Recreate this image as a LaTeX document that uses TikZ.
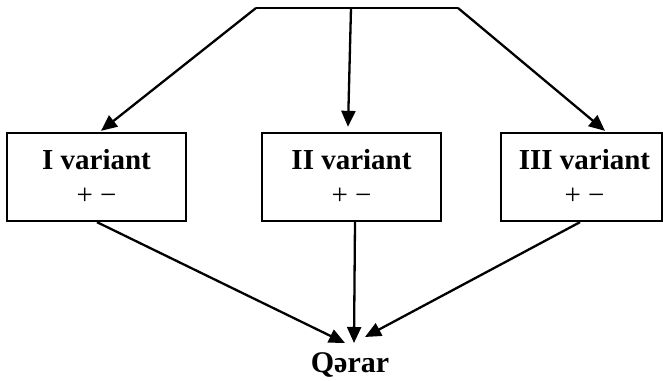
\documentclass[tikz,border=0pt]{standalone}
\usepackage{fontspec}
\setmainfont{Liberation Serif}
\usetikzlibrary{arrows.meta}
\begin{document}
\begin{tikzpicture}[x=1pt,y=-1pt,
  line width=2.3pt,
  every node/.style={font=\fontsize{29}{32}\selectfont},
  varbox/.style={draw, rectangle, minimum height=88pt, inner sep=0pt, align=center},
  arr/.style={-{Triangle[length=16pt,width=14pt]}}]
\useasboundingbox (0,0) rectangle (663,380);
\coordinate (tl) at (256,8);
\coordinate (tm) at (351,8);
\coordinate (tr) at (458,8);
\node[varbox, minimum width=179pt] (b1) at (96.5,177) {\textbf{I variant}\\[3pt]+ −};
\node[varbox, minimum width=179pt] (b2) at (351.5,177) {\textbf{II variant}\\[3pt]+ −};
\node[varbox, minimum width=161pt] (b3) at (581.5,177) {\hspace*{6pt}\textbf{III variant}\\[3pt]\hspace*{6pt}+ −};
\node[anchor=north, inner sep=0pt, font=\fontsize{30}{34}\selectfont] (q) at (350,351) {\textbf{Qərar}};
\draw (tl) -- (tr);
\draw[arr] (tl) -- ([xshift=4.5pt,yshift=1pt]b1.north);
\draw[arr] (tm) -- ([xshift=-3.5pt,yshift=5pt]b2.north);
\draw[arr] (tr) -- ([xshift=23.5pt,yshift=1pt]b3.north);
\draw[arr] ([xshift=0.5pt]b1.south) -- ([xshift=-5pt,yshift=8pt]q.north);
\draw[arr] ([xshift=3.5pt]b2.south) -- ([xshift=4pt,yshift=8pt]q.north);
\draw[arr] ([xshift=-1.5pt]b3.south) -- ([xshift=15pt,yshift=14pt]q.north);
\end{tikzpicture}
\end{document}
